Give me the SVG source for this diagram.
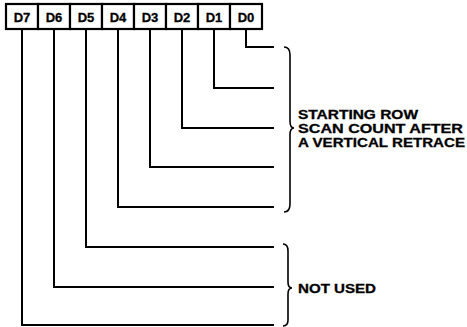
<svg xmlns="http://www.w3.org/2000/svg" width="467" height="327" viewBox="0 0 467 327">
<style>
.box{fill:#fff;stroke:#000;stroke-width:2.2}
.bl{font-family:"Liberation Sans",Arial,sans-serif;font-weight:bold;font-size:13px;text-anchor:middle;fill:#000;stroke:#000;stroke-width:0.3}
.lbl{font-family:"Liberation Sans",Arial,sans-serif;font-weight:bold;font-size:12.5px;fill:#000;stroke:#000;stroke-width:0.3}
.ln{fill:none;stroke:#000;stroke-width:2}
.br{fill:none;stroke:#000;stroke-width:1.6}
</style>
<rect width="467" height="327" fill="#fff"/>
<g id="D7"><rect class="box" x="6" y="4" width="32" height="25"/><text class="bl" x="22" y="21.5">D7</text></g>
<g id="D6"><rect class="box" x="38" y="4" width="32" height="25"/><text class="bl" x="54" y="21.5">D6</text></g>
<g id="D5"><rect class="box" x="70" y="4" width="32" height="25"/><text class="bl" x="86" y="21.5">D5</text></g>
<g id="D4"><rect class="box" x="102" y="4" width="32" height="25"/><text class="bl" x="118" y="21.5">D4</text></g>
<g id="D3"><rect class="box" x="134" y="4" width="32" height="25"/><text class="bl" x="150" y="21.5">D3</text></g>
<g id="D2"><rect class="box" x="166" y="4" width="32" height="25"/><text class="bl" x="182" y="21.5">D2</text></g>
<g id="D1"><rect class="box" x="198" y="4" width="32" height="25"/><text class="bl" x="214" y="21.5">D1</text></g>
<g id="D0"><rect class="box" x="230" y="4" width="32" height="25"/><text class="bl" x="246" y="21.5">D0</text></g>
<g id="connectors">
<path class="ln" d="M246 30 V47 H274"/>
<path class="ln" d="M214 30 V88 H274"/>
<path class="ln" d="M182 30 V128 H274"/>
<path class="ln" d="M150 30 V167 H274"/>
<path class="ln" d="M118 30 V207 H274"/>
<path class="ln" d="M86 30 V247 H274"/>
<path class="ln" d="M54 30 V287 H274"/>
<path class="ln" d="M22 30 V325 H274"/>
</g>
<g id="brace1">
<path class="br" d="M284 47 Q290 47 290 55 L290 121 Q290 128 294 128 Q290 128 290 135 L290 204 Q290 212 284 212"/>
<text class="lbl" x="298" y="119" textLength="120" lengthAdjust="spacingAndGlyphs">STARTING ROW</text>
<text class="lbl" x="298" y="133" textLength="165" lengthAdjust="spacingAndGlyphs">SCAN COUNT AFTER</text>
<text class="lbl" x="298" y="147" textLength="167" lengthAdjust="spacingAndGlyphs">A VERTICAL RETRACE</text>
</g>
<g id="brace2">
<path class="br" d="M283 244 Q288 244 288 251 L288 282 Q288 288 292 288 Q288 288 288 294 L288 320 Q288 326 283 326"/>
<text class="lbl" x="298" y="293" textLength="78" lengthAdjust="spacingAndGlyphs">NOT USED</text>
</g>
</svg>
